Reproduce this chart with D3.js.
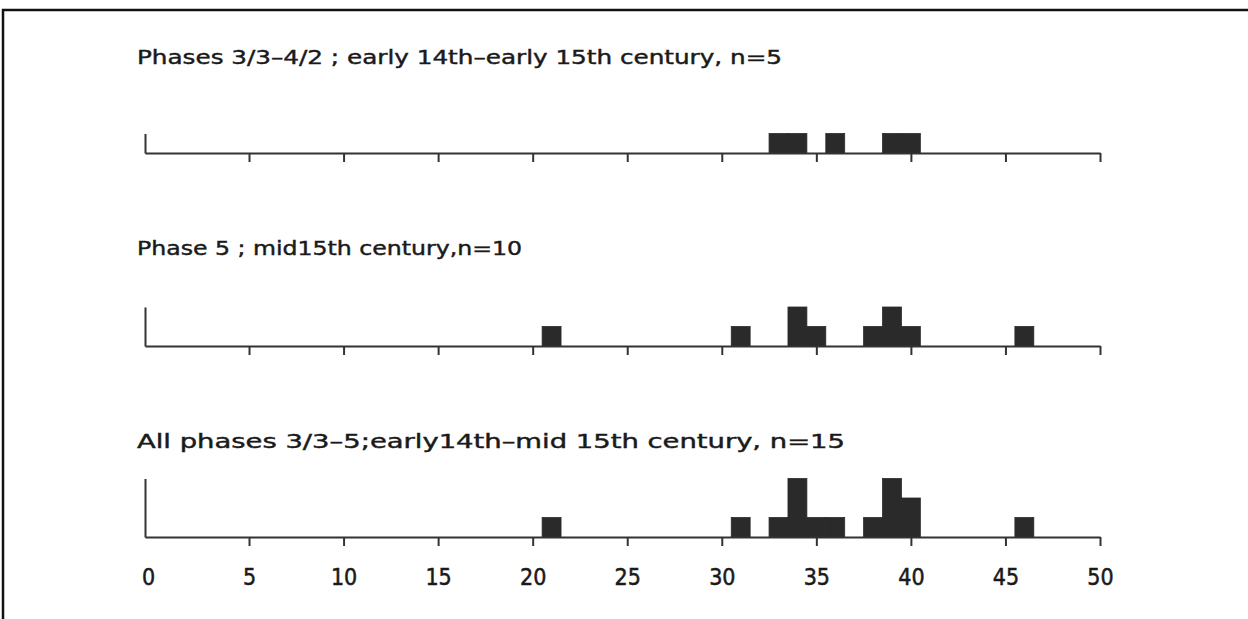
<!DOCTYPE html>
<html>
<head>
<meta charset="utf-8">
<script src="https://cdn.jsdelivr.net/npm/d3@7"></script>
<style>
  body { margin: 0; background: #fff; }
  svg { display: block; }
  .title { font-family: 'DejaVu Sans Condensed', 'DejaVu Sans', sans-serif; font-size: 20px; fill: #1a1a1a; stroke: #1a1a1a; stroke-width: 0.4px; }
  .tick text { font-family: 'DejaVu Sans Condensed', 'DejaVu Sans', sans-serif; font-size: 23px; fill: #1a1a1a; stroke: #1a1a1a; stroke-width: 0.5px; }
</style>
</head>
<body>
<div id="chart"></div>
<script>
// data: length bins (centred on whole numbers) and counts
const panelTitles = [
	'Phases 3/3\u20134/2 ; early  14th\u2013early  15th century,  n=5',
	'Phase 5 ; mid15th century,n=10',
	'All  phases 3/3\u20135;early14th\u2013mid  15th century,  n=15'
];

const phase1Values = [33, 34, 36, 39, 40];
const phase1Counts = [1, 1, 1, 1, 1];

const phase5Values = [21, 31, 34, 35, 38, 39, 40, 46];
const phase5Counts = [1, 1, 2, 1, 1, 2, 1, 1];

const allValues = [21, 31, 33, 34, 35, 36, 38, 39, 40, 46];
const allCounts = [1, 1, 1, 3, 1, 1, 1, 3, 2, 1];

const tickValues = [0, 5, 10, 15, 20, 25, 30, 35, 40, 45, 50];

// layout
const width  = 1248;
const height = 619;
const unitH  = 19.5;

const panels = [
	{ values : phase1Values, counts : phase1Counts, base : 153, titleY : 64,  titleW : 645, labels : false },
	{ values : phase5Values, counts : phase5Counts, base : 346, titleY : 255, titleW : 385, labels : false },
	{ values : allValues,    counts : allCounts,    base : 537, titleY : 448, titleW : 708, labels : true }
];

const svg = d3.select( '#chart' )
	.append( 'svg' )
	.attr( 'width', width )
	.attr( 'height', height );

// frame: top and left edges only
svg.append( 'path' )
	.attr( 'd', `M3,${height} V10 H${width}` )
	.attr( 'fill', 'none' )
	.attr( 'stroke', '#111' )
	.attr( 'stroke-width', 2.5 );

const x = d3.scaleLinear()
	.domain( [-0.5, 50] )
	.range( [145, 1100] );

panels.forEach( ( p, i ) => {
	const maxCount = d3.max( p.counts );
	const y = d3.scaleLinear()
		.domain( [0, maxCount] )
		.range( [p.base, p.base - maxCount * unitH] );

	svg.append( 'text' )
		.attr( 'class', 'title' )
		.attr( 'x', 137 )
		.attr( 'y', p.titleY )
		.attr( 'textLength', p.titleW )
		.attr( 'lengthAdjust', 'spacingAndGlyphs' )
		.text( panelTitles[i] );

	const bins = p.values.map( ( v, j ) => ( { v : v, n : p.counts[j] } ) );

	svg.append( 'g' )
		.selectAll( 'rect' )
		.data( bins )
		.enter()
		.append( 'rect' )
		.attr( 'x', d => x( d.v - 0.5 ) )
		.attr( 'width', d => x( d.v + 0.5 ) - x( d.v - 0.5 ) )
		.attr( 'y', d => y( d.n ) )
		.attr( 'height', d => y( 0 ) - y( d.n ) )
		.attr( 'fill', '#2a2a2a' )
		.attr( 'stroke', '#2a2a2a' )
		.attr( 'stroke-width', 0.8 );

	const xAxis = d3.axisBottom( x )
		.tickValues( tickValues.filter( t => t > 0 ) )
		.tickSize( 9 )
		.tickSizeOuter( 0 )
		.tickPadding( 23 )
		.tickFormat( p.labels ? d3.format( 'd' ) : '' );

	const gx = svg.append( 'g' )
		.attr( 'transform', `translate(0,${p.base})` )
		.call( xAxis );
	gx.select( '.domain' ).attr( 'stroke', '#333' ).attr( 'stroke-width', 2 );
	gx.selectAll( '.tick line' ).attr( 'stroke', '#333' ).attr( 'stroke-width', 2 );

	if ( p.labels ) {
		// the zero label has no tick mark
		gx.append( 'g' )
			.attr( 'class', 'tick' )
			.attr( 'transform', `translate(${x( 0 ) - 6},0)` )
			.append( 'text' )
			.attr( 'y', 32 )
			.attr( 'dy', '0.71em' )
			.attr( 'text-anchor', 'middle' )
			.text( '0' );
	}

	const yAxis = d3.axisLeft( y ).tickValues( [] ).tickSizeOuter( 0 );
	const gy = svg.append( 'g' )
		.attr( 'transform', `translate(${x( -0.5 )},0)` )
		.call( yAxis );
	gy.select( '.domain' ).attr( 'stroke', '#333' ).attr( 'stroke-width', 2 );
} );
</script>
</body>
</html>
